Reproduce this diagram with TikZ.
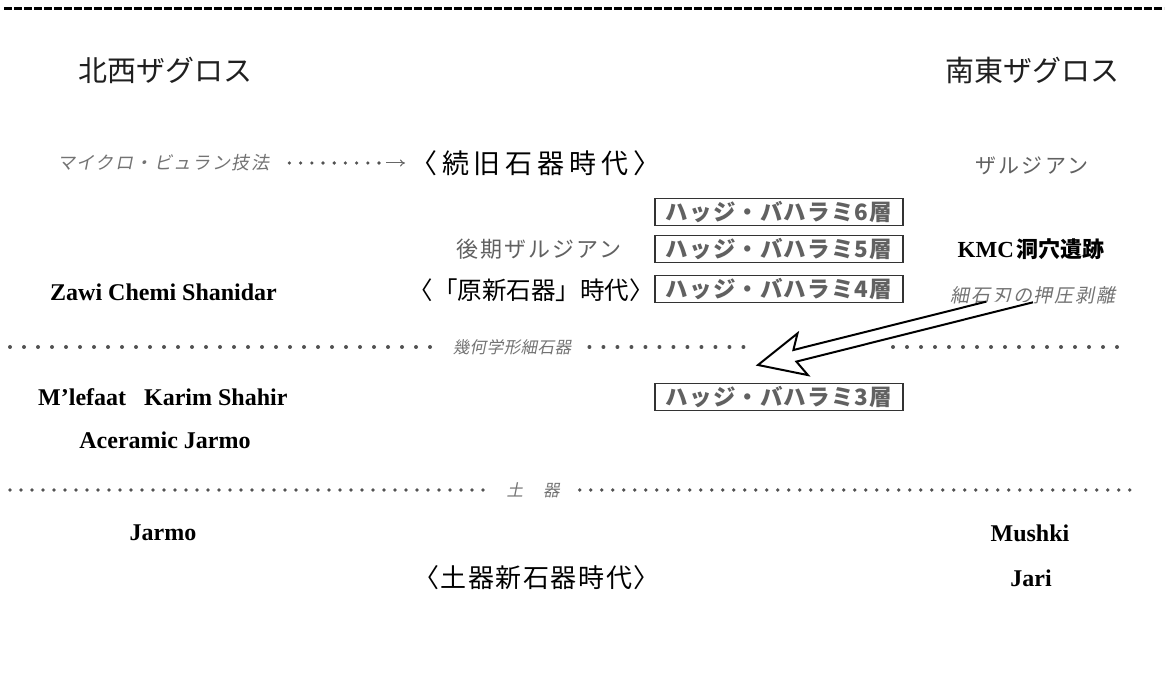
\documentclass[tikz,border=0pt]{standalone}
\usepackage{fontspec}
\setmainfont{Liberation Serif}
\newfontfamily\jp{Noto Sans CJK JP}
\newfontfamily\jpit[FakeSlant=0.2]{Noto Sans CJK JP}
\newcommand\myfs[1]{\fontsize{#1}{#1}\selectfont}
\usetikzlibrary{arrows.meta}
\begin{document}
\begin{tikzpicture}[x=1pt,y=-1pt,
  head/.style={font=\jp\myfs{29}, text=black!88, inner sep=0},
  era/.style={font=\jp\myfs{26}, text=black, inner sep=0},
  layerbox/.style={draw=black!80, line width=1.3, minimum width=248, minimum height=27, inner sep=0, font=\jp\bfseries\myfs{22.5}, text=black!62},
  note/.style={font=\jpit\myfs{16.5}, text=black!55, inner sep=0},
  grayjp/.style={font=\jp\myfs{21}, text=black!62, inner sep=0},
  site/.style={font=\bfseries\myfs{24}, text=black, inner sep=0},
  sep/.style={line width=4, line cap=round, dash pattern=on 0pt off 14pt, draw=black!68},
  sepb/.style={line width=3.8, line cap=round, dash pattern=on 0pt off 11pt, draw=black!68},
  smalldots/.style={line width=3.6, line cap=round, dash pattern=on 0pt off 11.2pt, draw=black!68},
]
\useasboundingbox[fill=white] (0,0) rectangle (1168,692);

% top dashed rule
\coordinate (tl) at (4,9);
\coordinate (tr) at (1164,9);
\draw[line width=3, dash pattern=on 8pt off 2pt, black] (tl) -- (tr);

% headings
\node[head] (nw) at (165,70) {北西ザグロス};
\node[head] (se) at (1032,70) {南東ザグロス};

% row 1
\node[note, font=\jpit\myfs{18}, anchor=west] (micro) at (57,163) {\addfontfeatures{LetterSpace=8}マイクロ・ビュラン技法};
\node[era, font=\jp\myfs{27}, anchor=west] (zoku) at (410,163) {\addfontfeatures{LetterSpace=18}〈続旧石器時代〉};
\coordinate (ma) at (386,163);
\draw[smalldots, shorten <=20] (micro.east) -- (ma);
\draw[black!60, line width=1, -{To[length=5pt,width=7pt]}] (ma) -- ([xshift=-5]zoku.west);
\node[grayjp] (zal) at (1032,166) {\addfontfeatures{LetterSpace=10}ザルジアン};

% layer boxes
\node[layerbox] (b6) at (779,212) {\addfontfeatures{LetterSpace=5}ハッジ・バハラミ6層};
\node[layerbox] (b5) at (779,249) {\addfontfeatures{LetterSpace=5}ハッジ・バハラミ5層};
\node[layerbox] (b4) at (779,289) {\addfontfeatures{LetterSpace=5}ハッジ・バハラミ4層};
\node[layerbox] (b3) at (779,397) {\addfontfeatures{LetterSpace=5}ハッジ・バハラミ3層};

% row 2
\node[grayjp, font=\jp\myfs{22}] (koki) at (539,249) {\addfontfeatures{LetterSpace=9}後期ザルジアン};
\node[inner sep=0] (kmc) at (1031,249) {{\bfseries\myfs{23}KMC} {\jp\bfseries\myfs{22}洞穴遺跡}};

% row 3
\node[site, anchor=west] (zawi) at (50,292) {Zawi Chemi Shanidar};
\node[era, font=\jp\myfs{24.5}, anchor=east] (gen) at (654,290) {〈「原新石器」時代〉};
\node[note, font=\jpit\myfs{19}] (saiseki) at (1033,295) {\addfontfeatures{LetterSpace=10}細石刃の押圧剥離};

% separator 1
\node[note] (kika) at (512,347) {\addfontfeatures{LetterSpace=3}幾何学形細石器};
\coordinate (s1a) at (10,347);
\coordinate (s1b) at (755,347);
\coordinate (s1c) at (893,347);
\coordinate (s1d) at (1130,347);
\draw[sep] (s1a) -- ([xshift=-20]kika.west);
\draw[sep] ([xshift=18]kika.east) -- (s1b);
\draw[sep] (s1c) -- (s1d);

% big open arrow
\coordinate (tip) at (758,365);
\draw[black, line width=2, line join=miter, fill=white]
  (986.4,301.6) -- (793.4,350) -- (797.5,333.4) -- (tip) -- (807.9,375.1) -- (796.4,361.6) -- (1033,302.3);

% row 4
\node[site, anchor=west] (mlef) at (38,397) {M’lefaat\hspace{18pt}Karim Shahir};
\node[site] (acer) at (165,440) {Aceramic Jarmo};

% separator 2
\node[note] (doki) at (533,490) {土\hspace{20pt}器};
\coordinate (s2a) at (10,490);
\coordinate (s2b) at (1130,490);
\draw[sepb] (s2a) -- ([xshift=-20]doki.west);
\draw[sepb] ([xshift=20]doki.east) -- (s2b);

% bottom rows
\node[site] (jarmo) at (163,533) {Jarmo};
\node[site] (mushki) at (1030,533) {Mushki};
\node[era, anchor=west] (dokijidai) at (413,578) {\addfontfeatures{LetterSpace=6}〈土器新石器時代〉};
\node[site] (jari) at (1031,578) {Jari};
\end{tikzpicture}
\end{document}
